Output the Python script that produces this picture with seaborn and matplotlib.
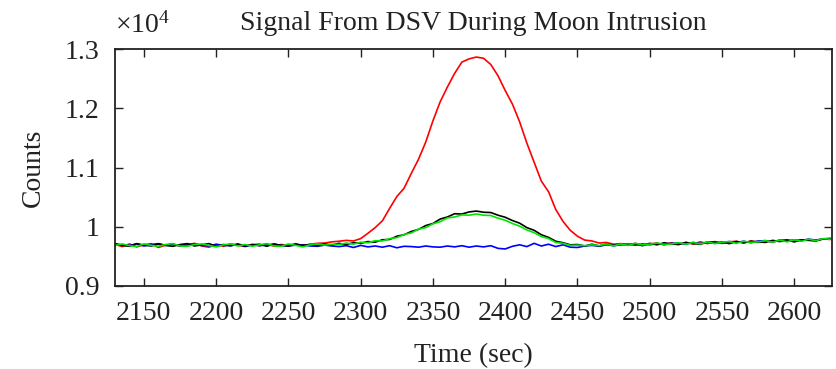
import numpy as np
import pandas as pd
import seaborn as sns
import matplotlib.pyplot as plt
from matplotlib.ticker import FuncFormatter

# sample times (sec), every 5 s
time = np.arange(2130, 2630, 5)

# counts per channel
red = [9705, 9665, 9710, 9660, 9695, 9715, 9650, 9690, 9710, 9670,
       9695, 9720, 9675, 9655, 9700, 9670, 9710, 9690, 9665, 9705,
       9680, 9710, 9670, 9700, 9685, 9715, 9680, 9705, 9720, 9725,
       9745, 9755, 9770, 9760, 9800, 9890, 9985, 10100, 10310, 10510,
       10650, 10900, 11140, 11430, 11790, 12110, 12360, 12590, 12780, 12835,
       12865, 12845, 12740, 12550, 12300, 12070, 11770, 11410, 11090, 10770,
       10590, 10290, 10090, 9940, 9840, 9775, 9760, 9725, 9735, 9705,
       9715, 9695, 9720, 9690, 9710, 9725, 9695, 9730, 9700, 9735,
       9710, 9745, 9715, 9750, 9720, 9745, 9755, 9725, 9760, 9735,
       9765, 9740, 9770, 9780, 9750, 9775, 9785, 9765, 9795, 9785]

black = [9710, 9685, 9670, 9715, 9690, 9675, 9710, 9685, 9670, 9700,
         9715, 9675, 9695, 9715, 9670, 9700, 9680, 9710, 9675, 9695,
         9705, 9670, 9710, 9685, 9675, 9705, 9685, 9700, 9680, 9710,
         9690, 9720, 9700, 9730, 9720, 9750, 9740, 9780, 9785, 9840,
         9865, 9920, 9955, 10020, 10055, 10130, 10165, 10220, 10215, 10250,
         10265, 10245, 10240, 10195, 10160, 10105, 10060, 9985, 9940, 9865,
         9820, 9755, 9730, 9695, 9700, 9675, 9705, 9675, 9710, 9685,
         9705, 9695, 9710, 9680, 9720, 9695, 9730, 9710, 9700, 9735,
         9715, 9705, 9740, 9720, 9745, 9715, 9750, 9730, 9755, 9745,
         9735, 9770, 9750, 9775, 9745, 9780, 9770, 9760, 9795, 9790]

green = [9685, 9710, 9680, 9665, 9710, 9685, 9670, 9700, 9715, 9675,
         9670, 9700, 9710, 9685, 9660, 9695, 9710, 9675, 9700, 9670,
         9695, 9715, 9675, 9670, 9710, 9685, 9660, 9695, 9710, 9690,
         9705, 9700, 9725, 9705, 9740, 9730, 9765, 9760, 9800, 9815,
         9870, 9895, 9960, 9985, 10050, 10085, 10150, 10165, 10200, 10195,
         10215, 10195, 10190, 10145, 10110, 10055, 10010, 9945, 9900, 9835,
         9800, 9735, 9720, 9685, 9690, 9680, 9695, 9680, 9710, 9675,
         9710, 9685, 9720, 9695, 9705, 9725, 9700, 9710, 9730, 9705,
         9735, 9710, 9745, 9715, 9740, 9750, 9720, 9755, 9735, 9745,
         9765, 9740, 9775, 9745, 9780, 9755, 9790, 9765, 9800, 9790]

blue = [9715, 9690, 9685, 9710, 9675, 9700, 9715, 9685, 9705, 9675,
        9700, 9710, 9685, 9675, 9705, 9685, 9680, 9700, 9670, 9695,
        9680, 9695, 9705, 9685, 9675, 9690, 9695, 9675, 9670, 9690,
        9675, 9665, 9680, 9650, 9685, 9660, 9675, 9655, 9680, 9645,
        9670, 9665, 9655, 9675, 9660, 9655, 9675, 9660, 9680, 9655,
        9675, 9660, 9680, 9635, 9625, 9670, 9695, 9665, 9720, 9675,
        9705, 9665, 9695, 9655, 9650, 9675, 9685, 9670, 9695, 9680,
        9695, 9705, 9690, 9710, 9695, 9715, 9700, 9720, 9725, 9705,
        9735, 9715, 9740, 9745, 9720, 9750, 9735, 9755, 9730, 9760,
        9765, 9745, 9775, 9760, 9780, 9765, 9790, 9775, 9795, 9805]

x_ticks = [2150, 2200, 2250, 2300, 2350, 2400, 2450, 2500, 2550, 2600]
y_ticks = [9000, 10000, 11000, 12000, 13000]

sns.set_style('ticks')
plt.rcParams['font.family'] = ['Liberation Serif', 'DejaVu Serif']
plt.rcParams['mathtext.fontset'] = 'custom'
plt.rcParams['mathtext.rm'] = 'Liberation Serif'
plt.rcParams['text.color'] = '#222222'
plt.rcParams['axes.labelcolor'] = '#222222'
plt.rcParams['xtick.color'] = '#222222'
plt.rcParams['ytick.color'] = '#222222'

fig = plt.figure(figsize=(8.36, 3.69), dpi=100)
ax = fig.add_axes([0.1376, 0.225, 0.8574, 0.642])

# draw the channels
sns.lineplot(x=time, y=red, color='#ff0000', linewidth=1.2, ax=ax)
sns.lineplot(x=time, y=blue, color='#0000ff', linewidth=1.2, ax=ax)
sns.lineplot(x=time, y=black, color='#000000', linewidth=1.2, ax=ax)
sns.lineplot(x=time, y=green, color='#00e600', linewidth=1.2, ax=ax)

ax.set_xlim(2130, 2626)
ax.set_ylim(9000, 13000)
ax.set_xticks(x_ticks)
ax.set_yticks(y_ticks)
ax.yaxis.set_major_formatter(FuncFormatter(lambda v, p: f'{v / 1e4:g}'))

# MATLAB-like box with inward ticks
for side in ['top', 'right', 'bottom', 'left']:
    ax.spines[side].set_visible(True)
    ax.spines[side].set_linewidth(1.3)
    ax.spines[side].set_color('#222222')
ax.tick_params(direction='in', top=True, right=True, length=6, width=1,
               labelsize=20, pad=11)

ax.text(0.0, 1.045, r'$\times\mathregular{10^4}$', transform=ax.transAxes,
        fontsize=20, ha='left', va='bottom')

ax.set_title('Signal From DSV During Moon Intrusion', fontsize=20, pad=14)
ax.set_xlabel('Time (sec)', fontsize=20, labelpad=12)
ax.set_ylabel('Counts', fontsize=20, labelpad=14)

plt.savefig('out.png', dpi=100)
